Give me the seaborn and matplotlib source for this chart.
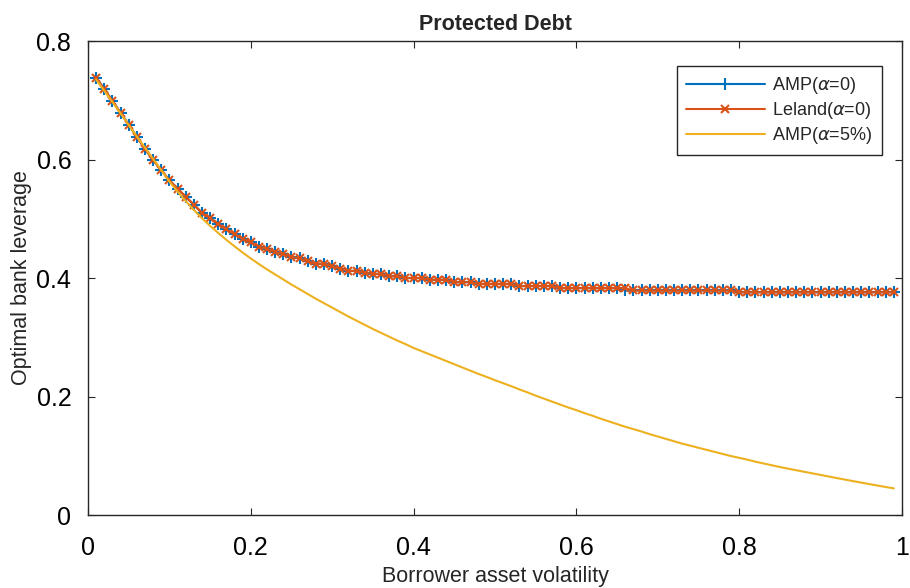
import numpy as np
import matplotlib
matplotlib.use("Agg")
import matplotlib.pyplot as plt
import seaborn as sns

# Borrower asset volatility grid
volatility = np.round(np.arange(0.01, 1.0, 0.01), 2)

# Optimal leverage, AMP model with alpha = 0
amp_alpha0 = [
    0.738, 0.719, 0.699, 0.679, 0.659, 0.638, 0.618, 0.599, 0.582, 0.565,
    0.551, 0.537, 0.524, 0.510, 0.501, 0.491, 0.482, 0.474, 0.466, 0.460,
    0.453, 0.449, 0.444, 0.440, 0.436, 0.433, 0.428, 0.424, 0.424, 0.420,
    0.416, 0.412, 0.412, 0.409, 0.407, 0.407, 0.403, 0.403, 0.400, 0.400,
    0.400, 0.397, 0.397, 0.397, 0.393, 0.393, 0.393, 0.390, 0.390, 0.390,
    0.390, 0.390, 0.3865, 0.3865, 0.3865, 0.3865, 0.3865, 0.383, 0.383, 0.383,
    0.383, 0.383, 0.383, 0.383, 0.383, 0.379, 0.379, 0.379, 0.379, 0.379,
    0.379, 0.379, 0.379, 0.379, 0.379, 0.379, 0.379, 0.379, 0.379, 0.376,
    0.376, 0.376, 0.376, 0.376, 0.376, 0.376, 0.376, 0.376, 0.376, 0.376,
    0.376, 0.376, 0.376, 0.376, 0.376, 0.376, 0.376, 0.376, 0.376,
]

# Optimal leverage, Leland model with alpha = 0
leland_alpha0 = [
    0.738, 0.719, 0.699, 0.679, 0.659, 0.638, 0.618, 0.599, 0.582, 0.565,
    0.551, 0.537, 0.524, 0.510, 0.501, 0.491, 0.482, 0.474, 0.466, 0.460,
    0.453, 0.449, 0.444, 0.440, 0.436, 0.433, 0.428, 0.424, 0.424, 0.420,
    0.416, 0.412, 0.412, 0.409, 0.407, 0.407, 0.403, 0.403, 0.400, 0.400,
    0.400, 0.397, 0.397, 0.397, 0.393, 0.393, 0.393, 0.390, 0.390, 0.390,
    0.390, 0.390, 0.3865, 0.3865, 0.3865, 0.3865, 0.3865, 0.383, 0.383, 0.383,
    0.383, 0.383, 0.383, 0.383, 0.383, 0.383, 0.379, 0.379, 0.379, 0.379,
    0.379, 0.379, 0.379, 0.379, 0.379, 0.379, 0.379, 0.379, 0.379, 0.376,
    0.376, 0.376, 0.376, 0.376, 0.376, 0.376, 0.376, 0.376, 0.376, 0.376,
    0.376, 0.376, 0.376, 0.376, 0.376, 0.376, 0.376, 0.376, 0.376,
]

# Optimal leverage, AMP model with alpha = 5%
amp_alpha5 = [
    0.735, 0.716, 0.697, 0.678, 0.658, 0.639, 0.620, 0.601, 0.582, 0.563,
    0.546, 0.530, 0.515, 0.501, 0.488, 0.476, 0.4645, 0.4535, 0.443, 0.433,
    0.4235, 0.4145, 0.406, 0.3975, 0.389, 0.381, 0.373, 0.365, 0.3575, 0.350,
    0.3425, 0.335, 0.328, 0.321, 0.314, 0.3075, 0.301, 0.2945, 0.2885, 0.282,
    0.2765, 0.271, 0.2655, 0.260, 0.2545, 0.249, 0.2435, 0.238, 0.233, 0.2275,
    0.2225, 0.2175, 0.212, 0.207, 0.2015, 0.1965, 0.1915, 0.1865, 0.1815, 0.177,
    0.172, 0.1675, 0.1625, 0.158, 0.1535, 0.149, 0.145, 0.141, 0.1365, 0.1325,
    0.1285, 0.1245, 0.1205, 0.117, 0.1135, 0.110, 0.1065, 0.103, 0.0995, 0.0965,
    0.0935, 0.090, 0.087, 0.084, 0.081, 0.0783, 0.0756, 0.073, 0.0703, 0.0677,
    0.065, 0.0624, 0.0598, 0.0572, 0.0547, 0.0522, 0.0497, 0.0473, 0.045,
]

x_ticks = [0, 0.2, 0.4, 0.6, 0.8, 1.0]
x_tick_labels = ["0", "0.2", "0.4", "0.6", "0.8", "1"]
y_ticks = [0, 0.2, 0.4, 0.6, 0.8]
y_tick_labels = ["0", "0.2", "0.4", "0.6", "0.8"]

sns.set_style("ticks")
plt.rcParams["font.family"] = ["Liberation Sans", "DejaVu Sans"]
plt.rcParams["mathtext.fontset"] = "dejavusans"

BLUE = "#0072BD"
ORANGE = "#D95319"
YELLOW = "#EDB120"
EDGE = "#262626"

fig = plt.figure(figsize=(9.1, 5.88), dpi=100)
ax = fig.add_axes([0.0967, 0.1241, 0.8945, 0.8061])

sns.lineplot(x=volatility, y=amp_alpha0, ax=ax, color=BLUE, linewidth=1.5,
             marker="+", markersize=9, markeredgewidth=1.5,
             markeredgecolor=BLUE, label=r"AMP($\alpha$=0)")
sns.lineplot(x=volatility, y=leland_alpha0, ax=ax, color=ORANGE, linewidth=1.5,
             marker="x", markersize=5.5, markeredgewidth=1.5,
             markeredgecolor=ORANGE, label=r"Leland($\alpha$=0)")
sns.lineplot(x=volatility, y=amp_alpha5, ax=ax, color=YELLOW, linewidth=1.5,
             label=r"AMP($\alpha$=5%)")

ax.set_xlim(0, 1)
ax.set_ylim(0, 0.8)
ax.set_xticks(x_ticks)
ax.set_xticklabels(x_tick_labels)
ax.set_yticks(y_ticks)
ax.set_yticklabels(y_tick_labels)
ax.tick_params(direction="in", top=True, right=True, length=5, width=0.8,
               labelsize=18, colors=EDGE, labelcolor="black")
ax.tick_params(axis="x", pad=15)
ax.tick_params(axis="y", pad=12)
for side in ["top", "right", "bottom", "left"]:
    ax.spines[side].set_visible(True)
    ax.spines[side].set_linewidth(1.0)
    ax.spines[side].set_color(EDGE)

ax.set_xlabel("Borrower asset volatility", fontsize=15.5, labelpad=4.5)
ax.set_ylabel("Optimal bank leverage", fontsize=15.5, labelpad=3)
ax.set_title("Protected Debt", fontsize=15.5, fontweight="bold", pad=8)

leg = ax.legend(loc="upper right", bbox_to_anchor=(0.975, 0.947),
                borderaxespad=0, fontsize=13, handlelength=4.4,
                handletextpad=0.4, numpoints=1, fancybox=False,
                framealpha=1, edgecolor=EDGE, labelspacing=0.22,
                borderpad=0.5)
leg.get_frame().set_linewidth(1.0)

fig.savefig("out.png", dpi=100)
